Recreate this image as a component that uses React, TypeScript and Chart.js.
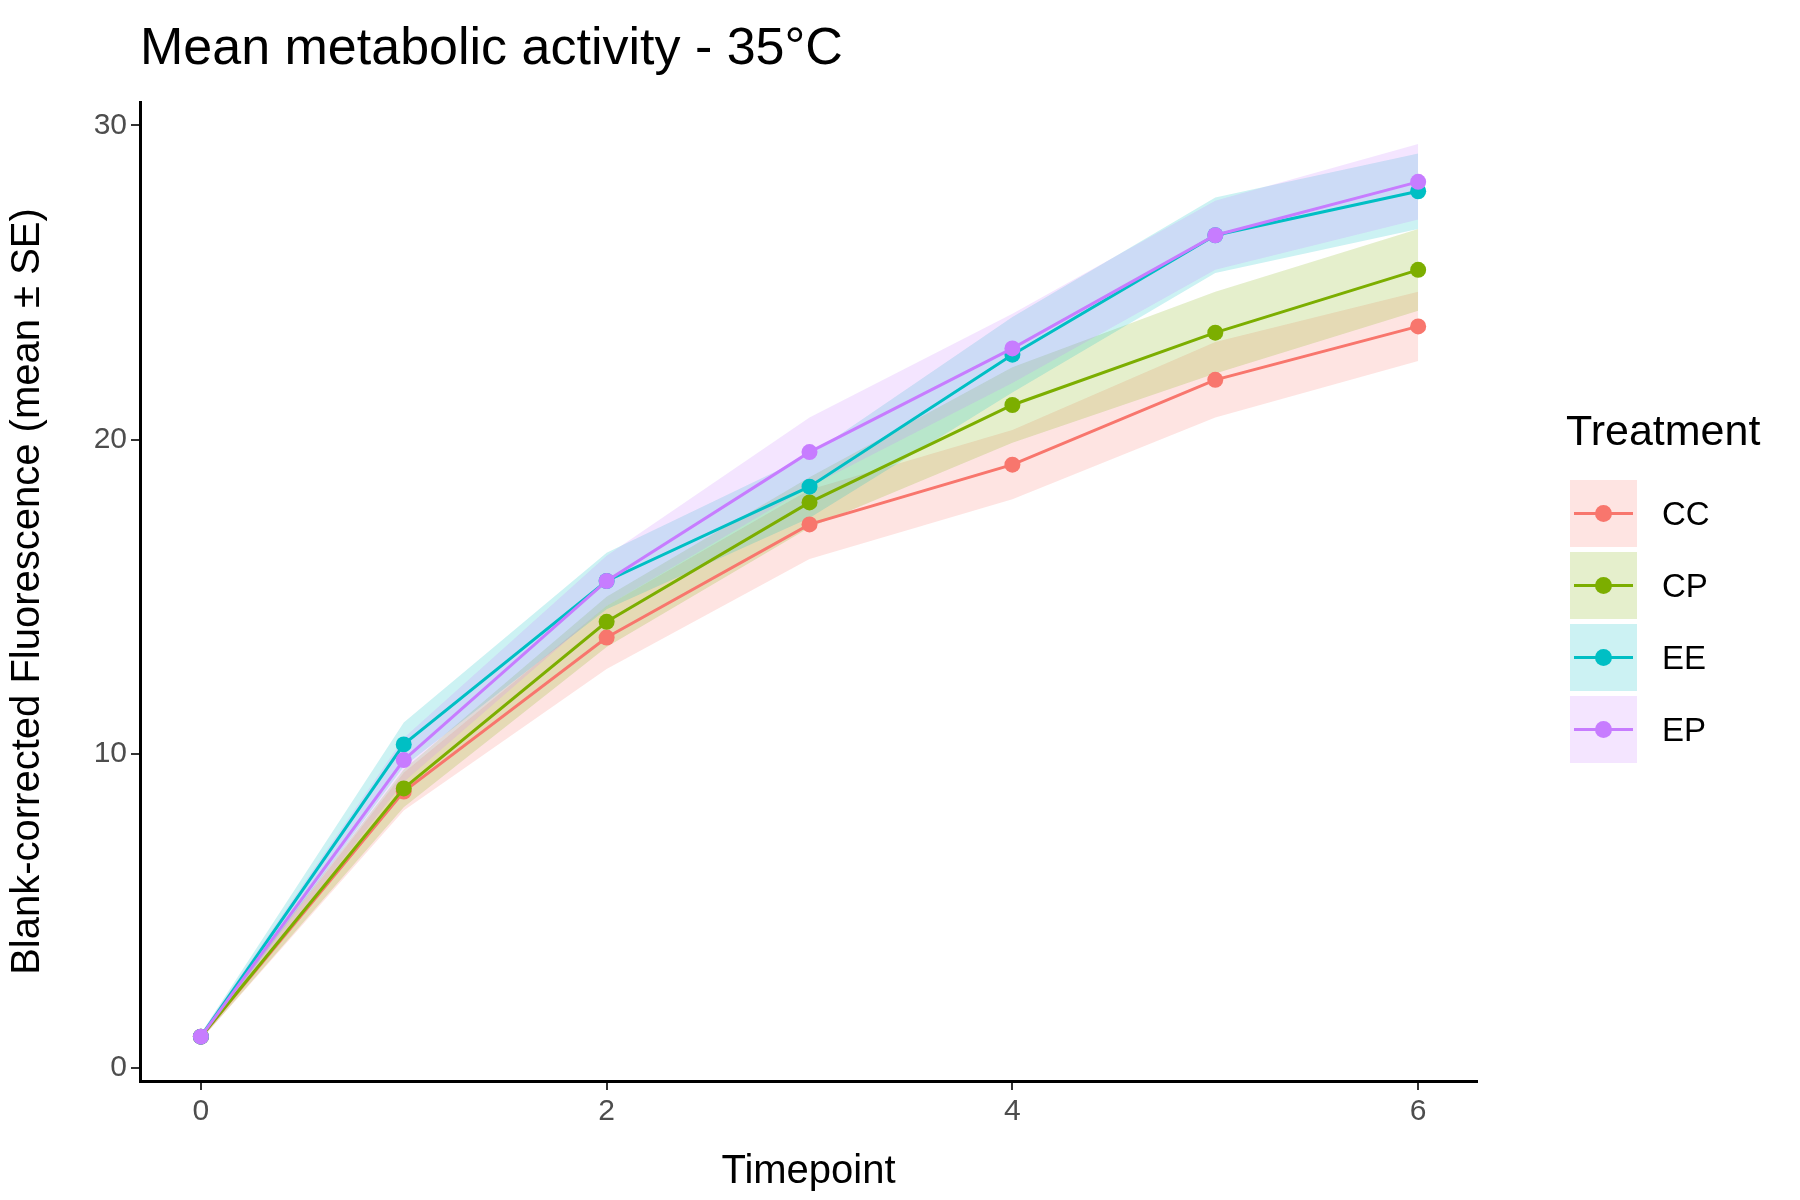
import React, { useEffect, useRef } from "react";
import { Chart, registerables } from "chart.js";
Chart.register(...registerables);

const timepoints = [0, 1, 2, 3, 4, 5, 6];
const treatments = ["CC", "CP", "EE", "EP"];
const colors = ["#F8766D", "#7CAE00", "#00BFC4", "#C77CFF"];
const ccMean = [1.0, 8.8, 13.7, 17.3, 19.2, 21.9, 23.6];
const ccSE = [0.1, 0.6, 1.0, 1.1, 1.1, 1.2, 1.1];
const cpMean = [1.0, 8.9, 14.2, 18.0, 21.1, 23.4, 25.4];
const cpSE = [0.1, 0.6, 0.8, 0.8, 1.2, 1.3, 1.3];
const eeMean = [1.0, 10.3, 15.5, 18.5, 22.7, 26.5, 27.9];
const eeSE = [0.1, 0.7, 0.9, 1.0, 1.2, 1.2, 1.2];
const epMean = [1.0, 9.8, 15.5, 19.6, 22.9, 26.5, 28.2];
const epSE = [0.1, 0.7, 0.8, 1.1, 1.1, 1.1, 1.2];
const means = [ccMean, cpMean, eeMean, epMean];
const ses = [ccSE, cpSE, eeSE, epSE];
const xTicks = [0, 2, 4, 6];
const yTicks = [0, 10, 20, 30];

function alpha(hex: string, a: number) {
  const n = parseInt(hex.slice(1), 16);
  return `rgba(${(n >> 16) & 255},${(n >> 8) & 255},${n & 255},${a})`;
}

export default function App() {
  const ref = useRef<HTMLCanvasElement>(null);
  useEffect(() => {
    const datasets: any[] = [];
    treatments.forEach((t, i) => {
      datasets.push({
        label: t + " hi", order: 20 - 2 * i,
        data: timepoints.map((x, k) => ({ x, y: means[i][k] + ses[i][k] })),
        borderWidth: 0, pointRadius: 0, fill: false, backgroundColor: alpha(colors[i], 0.2),
      });
      datasets.push({
        label: t + " lo", order: 19 - 2 * i,
        data: timepoints.map((x, k) => ({ x, y: means[i][k] - ses[i][k] })),
        borderWidth: 0, pointRadius: 0, fill: "-1", backgroundColor: alpha(colors[i], 0.2),
      });
    });
    treatments.forEach((t, i) => {
      datasets.push({
        label: t, order: 4 - i,
        data: timepoints.map((x, k) => ({ x, y: means[i][k] })),
        borderColor: colors[i], backgroundColor: colors[i], borderWidth: 3,
        pointRadius: 8, pointBorderWidth: 0, fill: false,
      });
    });
    const tickFont = { family: "Liberation Sans, Arial, sans-serif", size: 30 };
    const titleFont = { family: "Liberation Sans, Arial, sans-serif", size: 40 };
    const chart = new Chart(ref.current!, {
      type: "line",
      data: { datasets },
      options: {
        animation: false, responsive: false,
        layout: { padding: { left: 0, right: 323, top: 102, bottom: 0 } },
        plugins: { legend: { display: false }, tooltip: { enabled: false } },
        scales: {
          x: {
            type: "linear", min: -0.3, max: 6.29,
            afterBuildTicks: (s: any) => { s.ticks = xTicks.map((v) => ({ value: v })); },
            afterFit: (s: any) => { s.height = 119; },
            grid: { drawOnChartArea: false, drawTicks: true, tickLength: 9, color: "#333", lineWidth: 2 },
            border: { color: "#000", width: 3 },
            ticks: { font: tickFont, color: "#4d4d4d", padding: 4 },
            title: { display: true, text: "Timepoint", font: titleFont, color: "#000", padding: { top: 2 } },
          },
          y: {
            type: "linear", min: -0.41, max: 30.74,
            afterBuildTicks: (s: any) => { s.ticks = yTicks.map((v) => ({ value: v })); },
            afterFit: (s: any) => { s.width = 140; },
            grid: { drawOnChartArea: false, drawTicks: true, tickLength: 9, color: "#333", lineWidth: 2 },
            border: { color: "#000", width: 3 },
            ticks: { font: tickFont, color: "#4d4d4d", padding: 4 },
            title: { display: true, text: "Blank-corrected Fluorescence (mean ± SE)", font: titleFont, color: "#000", padding: { bottom: 6 } },
          },
        },
      },
    });
    return () => chart.destroy();
  }, []);
  const ff = "Liberation Sans, Arial, sans-serif";
  return (
    <div style={{ position: "absolute", left: 0, top: 0, width: 1800, height: 1200, background: "#fff", fontFamily: ff }}>
      <canvas ref={ref} width={1800} height={1200} style={{ position: "absolute", left: 0, top: 0 }} />
      <div style={{ position: "absolute", left: 140, top: 16, fontSize: 52, color: "#000" }}>Mean metabolic activity - 35°C</div>
      <div style={{ position: "absolute", left: 1566, top: 406, fontSize: 43, color: "#000" }}>Treatment</div>
      {treatments.map((t, i) => (
        <div key={t} style={{ position: "absolute", left: 1570, top: 480 + i * 72, width: 240, height: 67 }}>
          <div style={{ position: "absolute", left: 0, top: 0, width: 67, height: 67, background: alpha(colors[i], 0.2) }} />
          <div style={{ position: "absolute", left: 4, top: 32, width: 59, height: 3, background: colors[i] }} />
          <div style={{ position: "absolute", left: 25, top: 25, width: 17, height: 17, borderRadius: "50%", background: colors[i] }} />
          <div style={{ position: "absolute", left: 92, top: 15, fontSize: 33, color: "#000" }}>{t}</div>
        </div>
      ))}
    </div>
  );
}
